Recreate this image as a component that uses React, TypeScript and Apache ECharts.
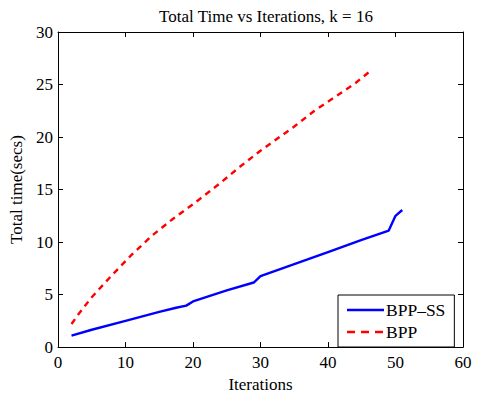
import React, { useEffect, useRef } from "react";
import * as echarts from "echarts";

const titleText = "Total Time vs Iterations, k = 16";
const xName = "Iterations";
const yName = "Total time(secs)";
const seriesNames = ["BPP–SS", "BPP"];

const bppSsX = [2, 5, 10, 15, 17.5, 19, 20, 25, 29, 30, 35, 40, 45, 49, 50, 51];
const bppSsY = [1.1, 1.65, 2.5, 3.35, 3.75, 3.95, 4.35, 5.4, 6.15, 6.75, 7.9, 9.05, 10.2, 11.1, 12.5, 13.05];

const bppX = [2, 3, 5, 8, 11, 14, 17, 20, 24, 27, 30, 35, 38, 41, 44, 46.3];
const bppY = [2.2, 3.1, 4.75, 6.85, 8.85, 10.65, 12.2, 13.6, 15.6, 17.2, 18.7, 21.0, 22.5, 23.8, 25.1, 26.3];

const FONT = "Liberation Serif";

const solidIcon = "path://M0,0 H37 V2.4 H0 Z";
const dashIcon = "path://M0,0 H8 V2.4 H0 Z M14,0 H22 V2.4 H14 Z M28,0 H36 V2.4 H28 Z M36,0 H37 V0.01 H36 Z";

export default function App() {
  const ref = useRef<HTMLDivElement>(null);
  useEffect(() => {
    if (!ref.current) return;
    const chart = echarts.init(ref.current, undefined, { renderer: "svg" });
    const zip = (xs: number[], ys: number[]) => xs.map((x, i) => [x, ys[i]]);
    const axisCommon = {
      axisLine: { show: true, onZero: false, lineStyle: { color: "#000", width: 1 } },
      axisTick: { show: true, inside: true, length: 5, lineStyle: { color: "#000" } },
      splitLine: { show: false },
    };
    const txt = { fontFamily: FONT, fontSize: 17, color: "#000" };
    chart.setOption({
      animation: false,
      backgroundColor: "#fff",
      textStyle: { fontFamily: FONT, color: "#000" },
      title: {
        text: titleText,
        left: 261,
        textAlign: "center",
        top: 3,
        textStyle: { ...txt, fontWeight: "normal" },
      },
      grid: { left: 58, right: 14, top: 32, bottom: 46 },
      legend: {
        left: 338,
        top: 295,
        orient: "vertical",
        itemWidth: 37,
        itemHeight: 2.4,
        itemGap: 4,
        padding: [6, 9, 6, 9],
        borderColor: "#000",
        borderWidth: 1,
        backgroundColor: "#fff",
        textStyle: { ...txt, fontSize: 17.5, padding: [0, 0, 0, -3] },
        data: [
          { name: seriesNames[0], icon: solidIcon },
          { name: seriesNames[1], icon: dashIcon },
        ],
      },
      xAxis: [
        {
          type: "value",
          min: 0,
          max: 60,
          interval: 10,
          position: "bottom",
          name: xName,
          nameLocation: "middle",
          nameGap: 24,
          nameTextStyle: txt,
          axisLabel: { ...txt, margin: 7 },
          ...axisCommon,
        },
        {
          type: "value",
          min: 0,
          max: 60,
          interval: 10,
          position: "top",
          axisLabel: { show: false },
          ...axisCommon,
        },
      ],
      yAxis: [
        {
          type: "value",
          min: 0,
          max: 30,
          interval: 5,
          position: "left",
          name: yName,
          nameLocation: "middle",
          nameGap: 23,
          nameTextStyle: txt,
          axisLabel: { ...txt, margin: 5 },
          ...axisCommon,
        },
        {
          type: "value",
          min: 0,
          max: 30,
          interval: 5,
          position: "right",
          axisLabel: { show: false },
          ...axisCommon,
        },
      ],
      series: [
        {
          name: seriesNames[0],
          type: "line",
          data: zip(bppSsX, bppSsY),
          showSymbol: false,
          symbol: "none",
          lineStyle: { color: "#0000ff", width: 2.4 },
          itemStyle: { color: "#0000ff" },
        },
        {
          name: seriesNames[1],
          type: "line",
          data: zip(bppX, bppY),
          showSymbol: false,
          symbol: "none",
          lineStyle: { color: "#ff0000", width: 2.4, type: [6, 5] },
          itemStyle: { color: "#ff0000" },
        },
      ],
    });
    return () => chart.dispose();
  }, []);
  return <div ref={ref} style={{ width: 477, height: 398, position: "absolute", left: 0, top: 0 }} />;
}
